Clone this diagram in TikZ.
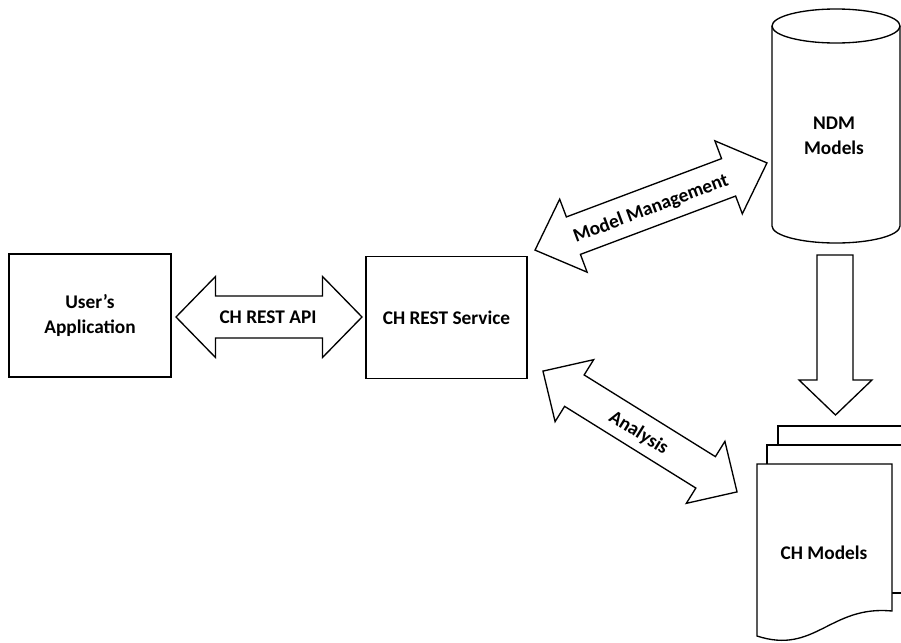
\documentclass[tikz,border=0pt]{standalone}
\usepackage{fontspec}
\setmainfont{Carlito}
\tikzset{
  shape line/.style={draw=black, line width=1pt, fill=white, line join=miter},
  lbl/.style={font=\bfseries\fontsize{14.5}{18.5}\selectfont, align=center, inner sep=0pt},
  boxnode/.style={draw=black, line width=1pt, fill=white, font=\bfseries\fontsize{14.5}{18.5}\selectfont, align=center}
}
% half length / shaft half-width / head half-width / head length
\newcommand\blockdblarrow[4]{%
  \draw[shape line] (-#1,0) -- (-#1+#4,#3) -- (-#1+#4,#2) -- (#1-#4,#2) -- (#1-#4,#3) -- (#1,0)
    -- (#1-#4,-#3) -- (#1-#4,-#2) -- (-#1+#4,-#2) -- (-#1+#4,-#3) -- cycle;}
\begin{document}
\begin{tikzpicture}[x=0.75pt,y=-0.75pt]
\clip (0,0) rectangle (901,643);
\fill[white] (0,0) rectangle (901,643);

% boxes
\node[boxnode, minimum width=121.5pt, minimum height=92.25pt] (ua) at (90,315.5) {User’s\\Application};
\node[boxnode, minimum width=120.75pt, minimum height=91.5pt] (svc) at (446.5,317.5) {CH REST Service};

% CH REST API arrow
\begin{scope}[shift={(269,317)}]
  \blockdblarrow{93}{21}{40.5}{39.5}
\end{scope}
\node[lbl] (api) at (268,317) {CH REST API};

% Model Management arrow
\begin{scope}[shift={(651,206.5)}, rotate=20.6]
  \blockdblarrow{123.9}{20}{39}{41}
\end{scope}
\node[lbl, rotate=20.6] (mm) at (651,209) {Model Management};

% Analysis arrow
\begin{scope}[shift={(640,431.5)}, rotate=-31.9]
  \blockdblarrow{114.3}{18.5}{36.5}{37}
\end{scope}
\node[lbl, rotate=-31.9] (an) at (638.5,433) {Analysis};

% NDM Models cylinder
\draw[line width=1pt] (772,26) -- (772,226)
  arc[start angle=180, end angle=360, x radius=48pt, y radius=12.75pt] -- (900,26);
\draw[line width=1pt] (836,26) ellipse [x radius=48pt, y radius=12.75pt];
\node[lbl] (ndm) at (834,136) {NDM\\Models};

% down arrow
\draw[shape line] (817,255) -- (853,255) -- (853,380) -- (872,380) -- (835.5,415)
  -- (799,380) -- (817,380) -- cycle;

% CH Models multi-document
\draw[shape line] (778,426) rectangle (913,575);
\draw[shape line] (767,445) rectangle (902,593);
\draw[shape line] (757,464) -- (892,464) -- (892,611)
  .. controls (830,605) and (815,655) .. (757,636) -- cycle;
\node[lbl] (chm) at (824,553) {CH Models};
\end{tikzpicture}
\end{document}
